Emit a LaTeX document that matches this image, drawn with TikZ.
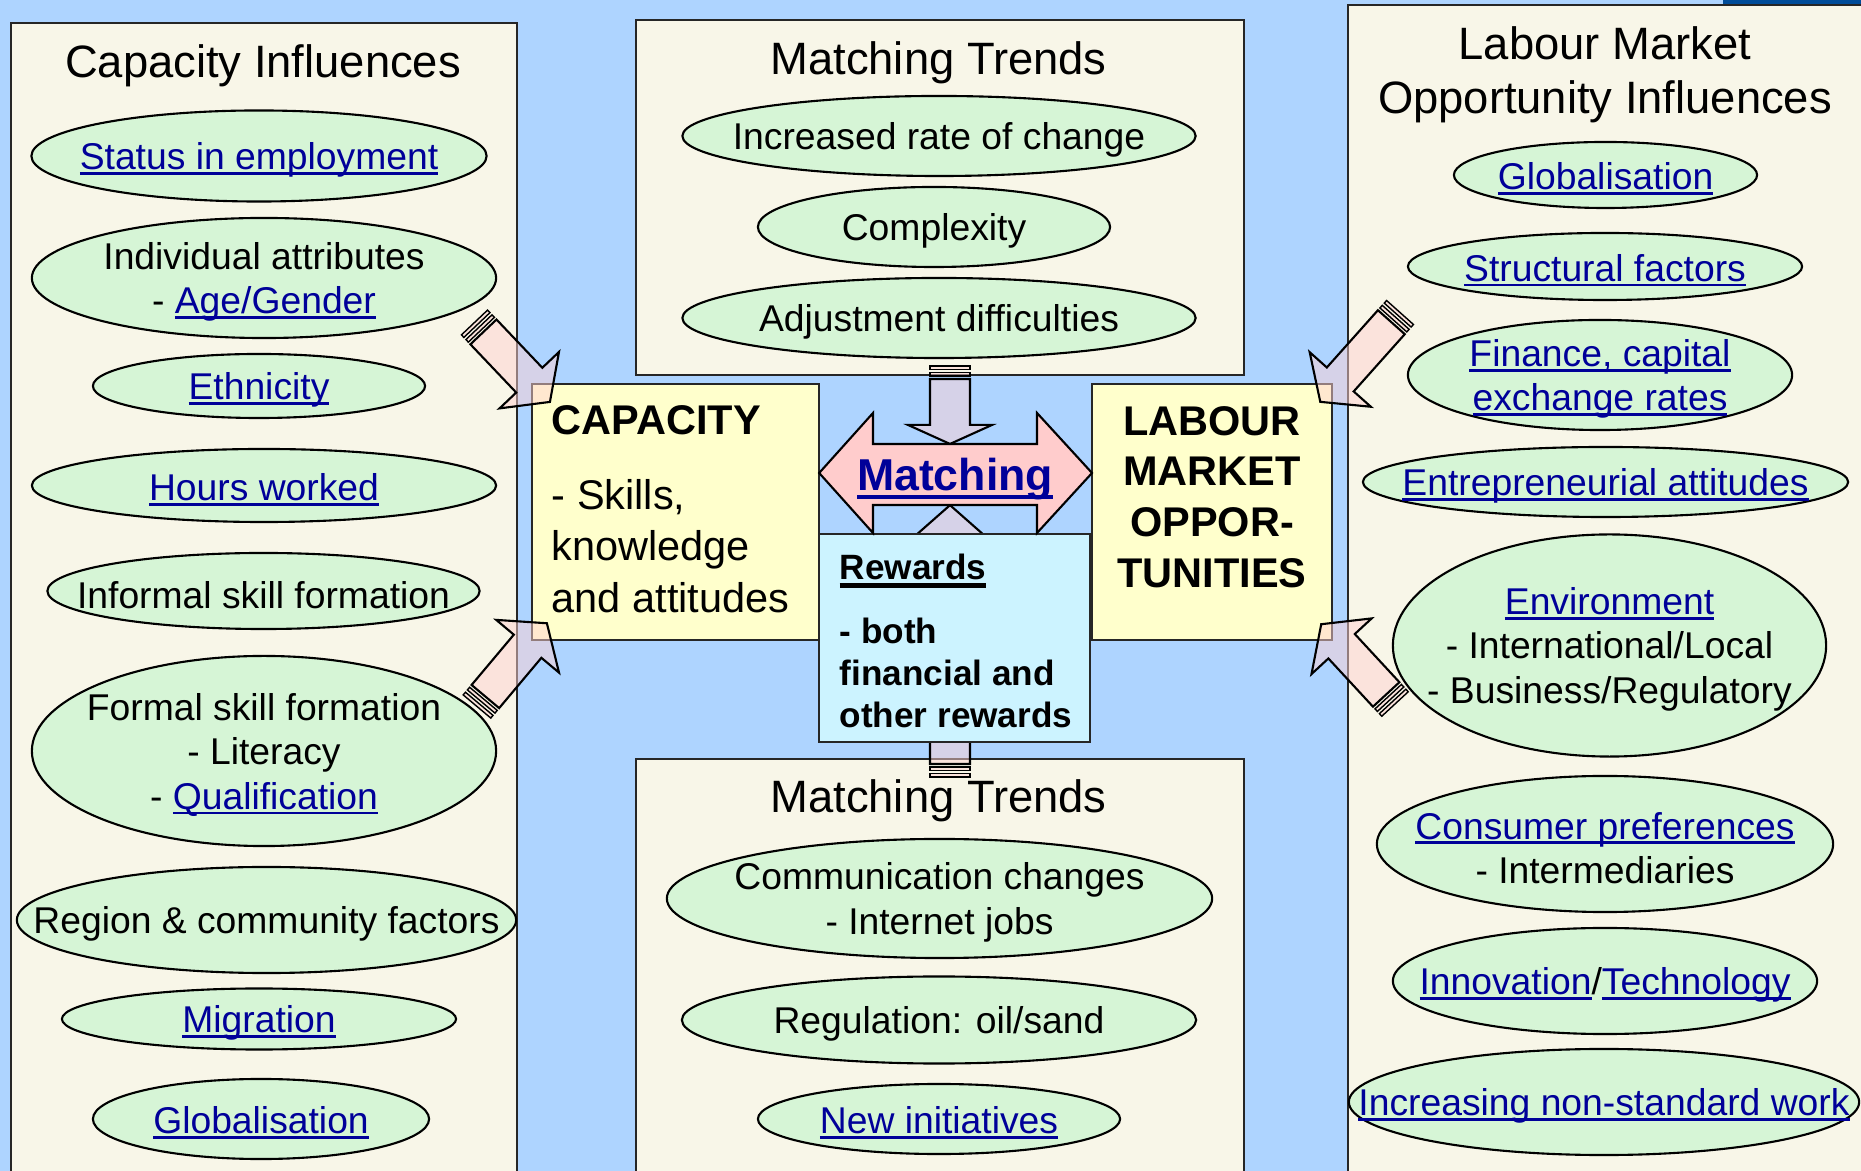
\documentclass[tikz,border=0pt]{standalone}
\usepackage{fontspec}
\setmainfont{Liberation Sans}
\usepackage{xcolor}
\usetikzlibrary{shapes.geometric}

\definecolor{bgblue}{RGB}{174,212,255}
\definecolor{panelcream}{RGB}{248,246,232}
\definecolor{bubgreen}{RGB}{214,245,214}
\definecolor{boxyellow}{RGB}{255,255,204}
\definecolor{rewcyan}{RGB}{204,243,255}
\definecolor{matchpink}{RGB}{255,204,204}
\definecolor{arrowpink}{RGB}{255,210,210}
\definecolor{linkblue}{RGB}{0,0,153}
\definecolor{navybar}{RGB}{0,76,153}

% underline at a fixed depth below the baseline
\newlength{\uldepth}
\setlength{\uldepth}{1.5pt}
\newcommand{\ulthick}{0.8pt}
\newsavebox{\ulbox}
\newcommand{\myul}[1]{\sbox{\ulbox}{#1}\rlap{\rule[-\uldepth]{\wd\ulbox}{\ulthick}}\usebox{\ulbox}}
\newcommand{\lnk}[1]{\textcolor{linkblue}{\myul{#1}}}

% striped block arrow: tail, tip, shaft half width, head half width, head length (px)
\newcommand{\stripearrow}[5]{%
  \pgfmathanglebetweenpoints{\pgfpointanchor{#1}{center}}{\pgfpointanchor{#2}{center}}%
  \let\arrang\pgfmathresult
  \pgfpointdiff{\pgfpointanchor{#1}{center}}{\pgfpointanchor{#2}{center}}%
  \pgfgetlastxy{\arrdx}{\arrdy}%
  \pgfmathsetmacro\arrlen{veclen(\arrdx,\arrdy)/0.28453}%
  \begin{scope}[shift={(#1)}, rotate=\arrang, x=0.01cm, y=0.01cm]
    \draw[blockarrow, line width=0.4pt] (0,-#3) rectangle (3.5,#3);
    \draw[blockarrow, line width=0.4pt] (6.5,-#3) rectangle (10,#3);
    \draw[blockarrow] (13,-#3) -- (\arrlen-#5,-#3) -- (\arrlen-#5,-#4) -- (\arrlen,0)
      -- (\arrlen-#5,#4) -- (\arrlen-#5,#3) -- (13,#3) -- cycle;
  \end{scope}}

\tikzset{
  panel/.style={draw=black!85, line width=0.6pt, fill=panelcream, inner sep=0pt, outer sep=0pt, anchor=north west},
  bigbox/.style={draw=black!85, line width=0.6pt, inner sep=0pt, outer sep=0pt, anchor=north west},
  bub/.style 2 args={ellipse, draw=black, line width=0.6pt, fill=bubgreen, inner sep=0pt, minimum width=#1cm, minimum height=#2cm},
  txt/.style={font=\fontsize{10.6}{12.6}\selectfont, align=center, inner sep=0pt, yshift=-1.1pt},
  title/.style={font=\fontsize{12.9}{15.4}\selectfont, align=center, inner sep=0pt},
  blockarrow/.style={draw=black, line width=0.6pt, fill=arrowpink, fill opacity=0.5, line join=miter},
}

\begin{document}
\begin{tikzpicture}[x=0.01cm, y=-0.01cm]
  % background
  \path[use as bounding box, fill=bgblue] (0,0) rectangle (1861,1171);
  \fill[navybar] (1723,0) rectangle (1861,6);

  % the four panels
  \node[panel, minimum width=5.06cm, minimum height=11.6cm] (capinf) at (11,23) {};
  \node[panel, minimum width=6.08cm, minimum height=3.55cm] (trendtop) at (636,20) {};
  \node[panel, minimum width=6.08cm, minimum height=4.3cm] (trendbot) at (636,759) {};
  \node[panel, minimum width=5.4cm, minimum height=11.8cm] (labinf) at (1348,5) {};

  % capacity influences
  \node[title, anchor=base] (capinftitle) at (263,78) {Capacity Influences};
  \node[bub={4.55}{0.91}, label={[txt]center:\lnk{Status in employment}}] (status) at (259,156) {};
  \node[bub={4.64}{1.20}, label={[txt]center:{Individual attributes\\- \lnk{Age/Gender}}}] (indiv) at (264,278) {};
  \node[bub={3.32}{0.64}, label={[txt]center:\lnk{Ethnicity}}] (ethnic) at (259,386) {};
  \node[bub={4.64}{0.73}, label={[txt]center:\lnk{Hours worked}}] (hours) at (264,485.5) {};
  \node[bub={4.32}{0.76}, label={[txt]center:Informal skill formation}] (informal) at (263.5,591) {};
  \node[bub={4.64}{1.90}, label={[txt]center:{Formal skill formation\\- Literacy\\- \lnk{Qualification}}}] (formal) at (264,751) {};
  \node[bub={4.99}{1.06}, label={[txt]center:Region \& community factors}] (region) at (266.5,920) {};
  \node[bub={3.94}{0.61}, label={[txt]center:\lnk{Migration}}] (migration) at (259,1019) {};
  \node[bub={3.36}{0.80}, label={[txt]center:\lnk{Globalisation}}] (globcap) at (261,1119) {};

  % matching trends, top
  \node[title, anchor=base] (toptitle) at (938.5,75) {Matching Trends};
  \node[bub={5.13}{0.80}, label={[txt]center:Increased rate of change}] (rate) at (939,136) {};
  \node[bub={3.52}{0.80}, label={[txt]center:Complexity}] (complex) at (934,227) {};
  \node[bub={5.13}{0.80}, label={[txt]center:Adjustment difficulties}] (adjust) at (939,318) {};

  % matching trends, bottom
  \node[title, anchor=base] (bottitle) at (938.5,813) {Matching Trends};
  \node[bub={5.45}{1.19}, label={[txt]center:{Communication changes\\- Internet jobs}}] (comm) at (939.5,898.5) {};
  \node[bub={5.14}{0.87}, label={[txt]center:Regulation: oil/sand}] (regul) at (939,1020) {};
  \node[bub={3.62}{0.70}, label={[txt]center:\lnk{New initiatives}}] (newinit) at (939,1119) {};

  % labour market opportunity influences
  \node[title] (labtitle) at (1605,75) {Labour Market\\Opportunity Influences};
  \node[bub={3.03}{0.66}, label={[txt]center:\lnk{Globalisation}}] (globlab) at (1605.5,175) {};
  \node[bub={3.94}{0.67}, label={[txt]center:\lnk{Structural factors}}] (struct) at (1605,266.5) {};
  \node[bub={3.84}{1.10}, label={[txt]center:{\lnk{Finance, capital}\\\lnk{exchange rates}}}] (finance) at (1600,375) {};
  \node[bub={4.85}{0.70}, label={[txt]center:\lnk{Entrepreneurial attitudes}}] (entre) at (1605.5,482) {};
  \node[bub={4.33}{2.22}, label={[txt]center:{\lnk{Environment}\\- International/Local\\- Business/Regulatory}}] (environ) at (1609.5,645.5) {};
  \node[bub={4.56}{1.36}, label={[txt]center:{\lnk{Consumer preferences}\\- Intermediaries}}] (consumer) at (1605,844) {};
  \node[bub={4.24}{1.06}, label={[txt]center:{\lnk{Innovation}/\lnk{Technology}}}] (innov) at (1605,981) {};
  \node[bub={5.10}{1.06}, label={[txt]center:\lnk{Increasing non-standard work}}] (nonstd) at (1604,1102) {};

  % rewards push up into matching (sits under the rewards box)
  \coordinate (uptail) at (950,777);
  \coordinate (uptip) at (950,505);
  \stripearrow{uptail}{uptip}{20}{42}{37}

  % central boxes
  \node[bigbox, fill=boxyellow, minimum width=2.87cm, minimum height=2.56cm] (cap) at (532,384) {};
  \node[bigbox, fill=boxyellow, minimum width=2.40cm, minimum height=2.56cm] (lab) at (1092,384) {};
  \node[bigbox, fill=rewcyan, minimum width=2.71cm, minimum height=2.08cm] (rew) at (819,534) {};

  % matching double arrow
  \draw[line width=0.6pt, fill=matchpink, line join=miter] (cap.east |- 0,473) -- (873,413) -- (873,444)
    -- (1037,444) -- (1037,413) -- (lab.west |- 0,473) -- (1037,533) -- (1037,505)
    -- (873,505) -- (873,533) -- cycle;
  \node[font=\bfseries\fontsize{12.7}{15}\selectfont, anchor=base, inner sep=0pt] (match) at (955,491)
    {{\setlength{\uldepth}{2.4pt}\renewcommand{\ulthick}{1.4pt}\lnk{Matching}}};

  \coordinate (dntail) at (950,366);
  \coordinate (dntip) at (950,444);
  \stripearrow{dntail}{dntip}{20}{42}{19}

  % box texts
  \node[font=\fontsize{11.8}{14.65}\selectfont, align=left, anchor=west, inner sep=0pt] (captxt) at (551,509)
    {\textbf{CAPACITY}\\[6.7pt]- Skills,\\knowledge\\and attitudes};
  \node[font=\bfseries\fontsize{11.8}{14.4}\selectfont, align=center, inner sep=0pt] (labtxt) at (1212,497)
    {LABOUR\\MARKET\\OPPOR-\\TUNITIES};
  \node[font=\bfseries\fontsize{10}{11.9}\selectfont, align=left, anchor=west, inner sep=0pt] (rewtxt) at (839,641)
    {{\setlength{\uldepth}{2.2pt}\renewcommand{\ulthick}{1.2pt}\myul{Rewards}}\\[6.2pt]- both\\financial and\\other rewards};

  % influence arrows
  \coordinate (ultail) at (474.5,322.5);
  \coordinate (ultip) at ([shift={(18,18)}]cap.north west);
  \coordinate (lltail) at (477,706.5);
  \coordinate (lltip) at ([shift={(15,-17)}]cap.south west);
  \coordinate (urtail) at (1400,312.5);
  \coordinate (urtip) at ([shift={(-12,18)}]lab.north east);
  \coordinate (lrtail) at (1395,704);
  \coordinate (lrtip) at ([shift={(-11,-16)}]lab.south east);
  \stripearrow{ultail}{ultip}{18}{41}{30}
  \stripearrow{lltail}{lltip}{18}{41}{30}
  \stripearrow{urtail}{urtip}{18}{41}{30}
  \stripearrow{lrtail}{lrtip}{18}{41}{30}
\end{tikzpicture}
\end{document}
